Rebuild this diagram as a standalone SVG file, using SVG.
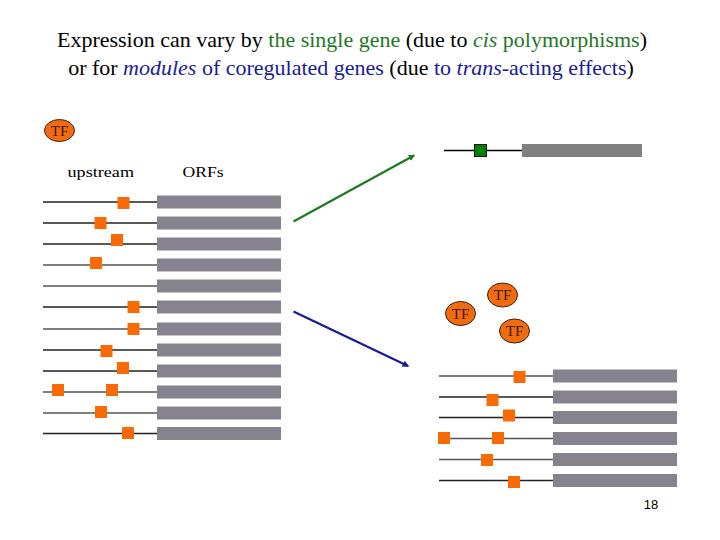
<svg xmlns="http://www.w3.org/2000/svg" width="720" height="540" viewBox="0 0 720 540">
<style>
.t{font-family:'Liberation Serif','Times New Roman',serif;fill:#000}
.tf{fill:#f26b10;stroke:#3a2010;stroke-width:1}
.tft{font-family:'Liberation Serif',serif;font-size:15px;fill:#3a1a08;text-anchor:middle}
.orf{fill:#86838f}
.ln{stroke:#222;stroke-width:1.5}
.lg{stroke:#555;stroke-width:1.5}
.sq{fill:#f96a05}
</style>
<defs>
<marker id="ag" viewBox="0 0 10 10" refX="8" refY="5" markerWidth="3" markerHeight="3" orient="auto"><path d="M0,0 L10,5 L0,10 z" fill="#1e7a1e"/></marker>
<marker id="ab" viewBox="0 0 10 10" refX="8" refY="5" markerWidth="3" markerHeight="3" orient="auto"><path d="M0,0 L10,5 L0,10 z" fill="#1a1a99"/></marker>
</defs>
<rect width="720" height="540" fill="#fff"/>
<text transform="translate(352,47) scale(1.1,1)" x="0" y="0" style="font-family:'Liberation Serif','Times New Roman',serif !important;font-size:20px" text-anchor="middle">Expression can vary by <tspan fill="#1e7a1e">the single gene</tspan> (due to <tspan fill="#1e7a1e" font-style="italic">cis</tspan><tspan fill="#1e7a1e"> polymorphisms</tspan>)</text>
<text transform="translate(351,75) scale(1.1,1)" x="0" y="0" style="font-family:'Liberation Serif','Times New Roman',serif !important;font-size:20px" text-anchor="middle">or for <tspan fill="#1a1a99" font-style="italic">modules</tspan><tspan fill="#1a1a99"> of coregulated genes</tspan> (due <tspan fill="#1a1a99">to </tspan><tspan fill="#1a1a99" font-style="italic">trans</tspan><tspan fill="#1a1a99">-acting effects</tspan>)</text>
<g id="tf-left"><ellipse class="tf" cx="59.5" cy="130.5" rx="15" ry="11"/><text class="tft" x="59.5" y="135.5">TF</text></g>
<g id="labels">
<text class="t" x="67.5" y="177" font-size="15" textLength="66.5" lengthAdjust="spacingAndGlyphs">upstream</text>
<text class="t" x="182.5" y="177" font-size="15" textLength="41" lengthAdjust="spacingAndGlyphs">ORFs</text>
</g>
<g id="left-genes">
<line class="ln" x1="43" y1="202" x2="157" y2="202"/><rect class="orf" x="157" y="195.5" width="124" height="13"/><rect class="sq" x="117.5" y="197" width="12" height="12"/>
<line class="ln" x1="43" y1="223" x2="157" y2="223"/><rect class="orf" x="157" y="216.5" width="124" height="13"/><rect class="sq" x="94.5" y="217" width="12" height="12"/>
<line class="ln" x1="43" y1="244" x2="157" y2="244"/><rect class="orf" x="157" y="237.5" width="124" height="13"/><rect class="sq" x="111" y="234" width="12" height="12"/>
<line class="lg" x1="43" y1="265" x2="157" y2="265"/><rect class="orf" x="157" y="258.5" width="124" height="13"/><rect class="sq" x="90" y="257" width="12" height="12"/>
<line class="lg" x1="43" y1="286" x2="157" y2="286"/><rect class="orf" x="157" y="279.5" width="124" height="13"/>
<line class="ln" x1="43" y1="307" x2="157" y2="307"/><rect class="orf" x="157" y="300.5" width="124" height="13"/><rect class="sq" x="127.5" y="301" width="12" height="12"/>
<line class="lg" x1="43" y1="329" x2="157" y2="329"/><rect class="orf" x="157" y="322.5" width="124" height="13"/><rect class="sq" x="127.5" y="323" width="12" height="12"/>
<line class="ln" x1="43" y1="350" x2="157" y2="350"/><rect class="orf" x="157" y="343.5" width="124" height="13"/><rect class="sq" x="100.5" y="345" width="12" height="12"/>
<line class="ln" x1="43" y1="371" x2="157" y2="371"/><rect class="orf" x="157" y="364.5" width="124" height="13"/><rect class="sq" x="117" y="362" width="12" height="12"/>
<line class="lg" x1="43" y1="392" x2="157" y2="392"/><rect class="orf" x="157" y="385.5" width="124" height="13"/><rect class="sq" x="52" y="384" width="12" height="12"/><rect class="sq" x="106" y="384" width="12" height="12"/>
<line class="lg" x1="43" y1="413" x2="157" y2="413"/><rect class="orf" x="157" y="406.5" width="124" height="13"/><rect class="sq" x="95" y="406" width="12" height="12"/>
<line class="ln" x1="43" y1="433.5" x2="157" y2="433.5"/><rect class="orf" x="157" y="427" width="124" height="13"/><rect class="sq" x="122" y="427" width="12" height="12"/>
</g>
<g id="single-gene">
<line stroke="#000" stroke-width="1.3" x1="444" y1="150.5" x2="522" y2="150.5"/>
<rect x="522" y="144" width="120" height="13" fill="#808080"/>
<rect x="474.5" y="144.5" width="12" height="12" fill="#008000" stroke="#111" stroke-width="1"/>
</g>
<g id="tf-right">
<ellipse class="tf" cx="460.5" cy="313.5" rx="15" ry="12"/><text class="tft" x="460.5" y="318.5">TF</text>
<ellipse class="tf" cx="502.5" cy="295" rx="15" ry="12"/><text class="tft" x="502.5" y="300">TF</text>
<ellipse class="tf" cx="514.5" cy="331" rx="15" ry="12"/><text class="tft" x="514.5" y="336">TF</text>
</g>
<g id="right-genes">
<line class="lg" x1="439" y1="376" x2="553" y2="376"/><rect class="orf" x="553" y="369.5" width="124" height="13"/><rect class="sq" x="513.5" y="371" width="12" height="12"/>
<line class="ln" x1="439" y1="397" x2="553" y2="397"/><rect class="orf" x="553" y="390.5" width="124" height="13"/><rect class="sq" x="486.5" y="394" width="12" height="12"/>
<line class="ln" x1="439" y1="417.5" x2="553" y2="417.5"/><rect class="orf" x="553" y="411" width="124" height="13"/><rect class="sq" x="503" y="409.5" width="12" height="12"/>
<line class="lg" x1="439" y1="438.5" x2="553" y2="438.5"/><rect class="orf" x="553" y="432" width="124" height="13"/><rect class="sq" x="438" y="432" width="12" height="12"/><rect class="sq" x="492" y="432" width="12" height="12"/>
<line class="lg" x1="439" y1="459.5" x2="553" y2="459.5"/><rect class="orf" x="553" y="453" width="124" height="13"/><rect class="sq" x="481" y="454" width="12" height="12"/>
<line class="ln" x1="439" y1="480.5" x2="553" y2="480.5"/><rect class="orf" x="553" y="474" width="124" height="13"/><rect class="sq" x="508" y="476" width="12" height="12"/>
</g>
<g id="connectors">
<line x1="293.5" y1="221.5" x2="414" y2="155.5" stroke="#1e7a1e" stroke-width="2.2" marker-end="url(#ag)"/>
<line x1="293.5" y1="311.5" x2="408" y2="366" stroke="#1a1a99" stroke-width="2.2" marker-end="url(#ab)"/>
</g>
<text x="651" y="509" font-family="Liberation Sans, Arial, sans-serif" font-size="13" text-anchor="middle" fill="#000">18</text>
</svg>
